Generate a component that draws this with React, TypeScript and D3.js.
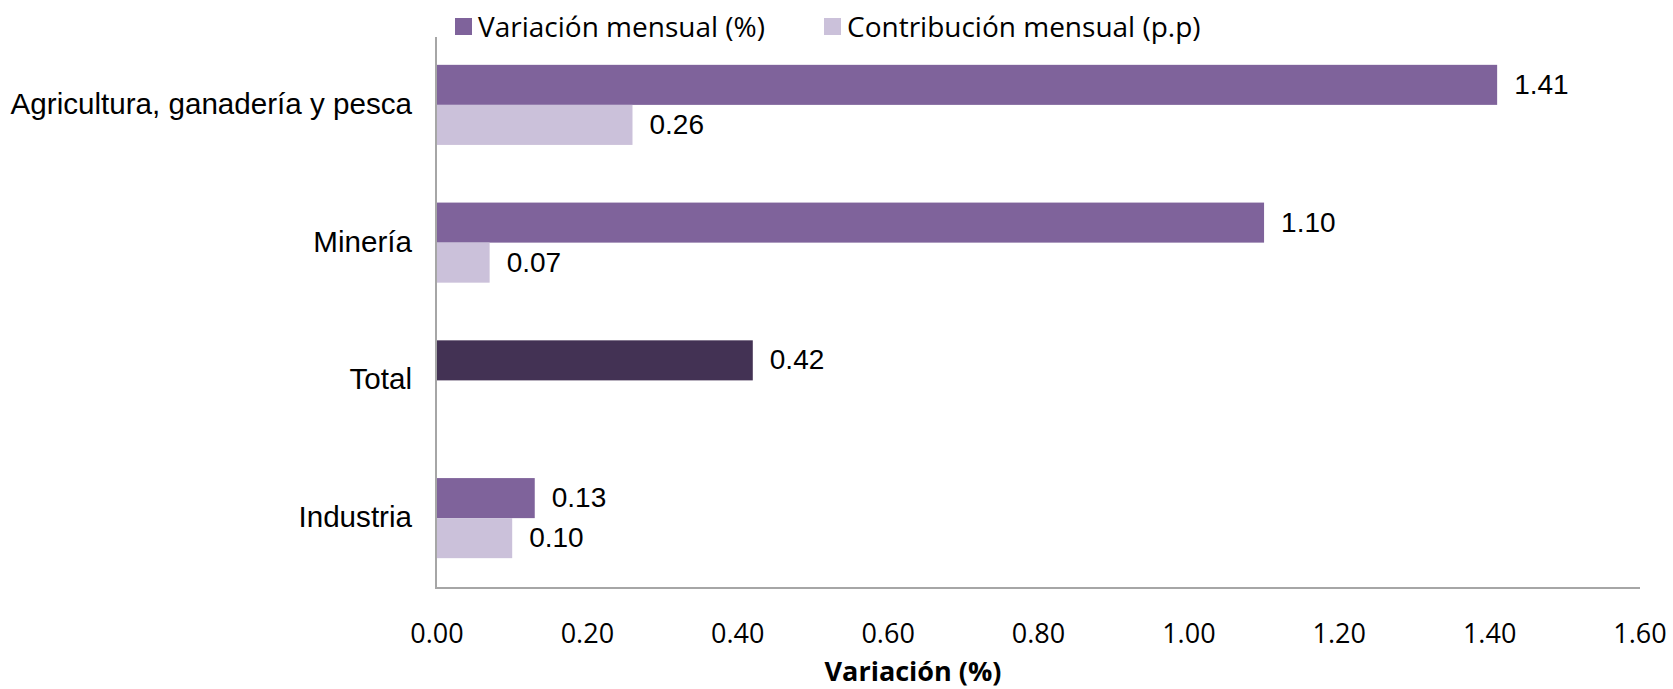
import React from "react";
import * as d3 from "d3";

const categories = ["Agricultura, ganadería y pesca", "Minería", "Total", "Industria"];
const variacion = [1.41, 1.10, 0.42, 0.13];
const contribucion: (number | null)[] = [0.26, 0.07, null, 0.10];
const xTicks = [0, 0.2, 0.4, 0.6, 0.8, 1.0, 1.2, 1.4, 1.6];
const seriesNames = ["Variación mensual (%)", "Contribución mensual (p.p)"];
const axisTitle = "Variación (%)";

const W = 1673;
const H = 689;
const left = 436;
const right = 1640;
const top = 37;
const bottom = 588;

const C_VAR = "#7f639b";
const C_CON = "#cbc1da";
const C_TOT = "#433254";
const AXIS = "#a6a6a6";

export default function App() {
  const x = d3.scaleLinear().domain([0, 1.6]).range([left + 1, right]);
  const y = d3.scaleBand<string>().domain(categories).range([top, bottom]).paddingInner(0).paddingOuter(0);
  const sub = d3
    .scaleBand<string>()
    .domain(["v", "c"])
    .range([0, y.bandwidth()])
    .paddingInner(0)
    .paddingOuter(0.72);

  const arial = "Arial, 'Liberation Sans', sans-serif";
  const sans = "'Open Sans', 'Noto Sans', sans-serif";

  return (
    <svg
      width={W}
      height={H}
      style={{ position: "absolute", left: 0, top: 0, background: "#fff" }}
    >
      {/* bars */}
      {categories.map((c, i) => {
        const y0 = y(c)!;
        const v = variacion[i];
        const cv = contribucion[i];
        const isTotal = c === "Total";
        const yv = y0 + sub("v")! - 1;
        const yc = y0 + sub("c")! - 1;
        const bh = sub.bandwidth();
        return (
          <g key={c}>
            <rect x={x(0)} y={yv} width={x(v) - x(0)} height={bh} fill={isTotal ? C_TOT : C_VAR} />
            <text
              x={x(v) + 17}
              y={yv + bh / 2}
              dy="0.32em"
              fontFamily={arial}
              fontSize={28}
              fill="#000"
            >
              {v.toFixed(2)}
            </text>
            {cv !== null && (
              <>
                <rect x={x(0)} y={yc} width={x(cv) - x(0)} height={bh} fill={C_CON} />
                <text
                  x={x(cv) + 17}
                  y={yc + bh / 2}
                  dy="0.32em"
                  fontFamily={arial}
                  fontSize={28}
                  fill="#000"
                >
                  {cv.toFixed(2)}
                </text>
              </>
            )}
            <text
              x={412}
              y={y0 + y.bandwidth() / 2}
              dy="0.27em"
              textAnchor="end"
              fontFamily={arial}
              fontSize={29.6}
              fill="#000"
            >
              {c}
            </text>
          </g>
        );
      })}

      {/* axes */}
      <line x1={left} x2={left} y1={top} y2={bottom} stroke={AXIS} strokeWidth={2} />
      <line x1={left - 1} x2={right} y1={bottom} y2={bottom} stroke={AXIS} strokeWidth={2} />

      {xTicks.map((t) => (
        <text
          key={t}
          x={x(t)}
          y={643}
          textAnchor="middle"
          fontFamily={sans}
          fontSize={27}
          fill="#000"
        >
          {t.toFixed(2)}
        </text>
      ))}

      <text
        x={913}
        y={681}
        textAnchor="middle"
        fontFamily={sans}
        fontWeight="bold"
        fontSize={27}
        fill="#000"
      >
        {axisTitle}
      </text>

      {/* legend */}
      <rect x={455} y={18} width={17} height={17} fill={C_VAR} />
      <text x={478} y={37} fontFamily={sans} fontSize={28} fill="#000">
        {seriesNames[0]}
      </text>
      <rect x={824} y={18} width={17} height={17} fill={C_CON} />
      <text x={847} y={37} fontFamily={sans} fontSize={28} fill="#000">
        {seriesNames[1]}
      </text>
    </svg>
  );
}
